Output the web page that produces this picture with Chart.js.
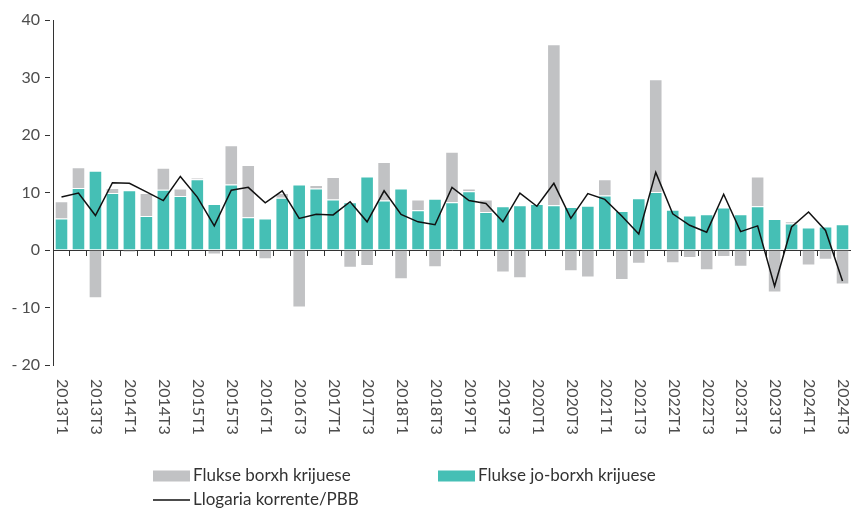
<!DOCTYPE html>
<html><head><meta charset="utf-8">
<script src="https://cdn.jsdelivr.net/npm/chart.js@4"></script>
<style>html,body{margin:0;padding:0;background:#fff;overflow:hidden}#wrap{width:851px;height:512px;position:relative}</style>
</head><body><div id="wrap"><canvas id="c" width="851" height="512"></canvas></div>
<script>
const quarters = ['2013T1','2013T2','2013T3','2013T4','2014T1','2014T2','2014T3','2014T4','2015T1','2015T2','2015T3','2015T4',
'2016T1','2016T2','2016T3','2016T4','2017T1','2017T2','2017T3','2017T4','2018T1','2018T2','2018T3','2018T4',
'2019T1','2019T2','2019T3','2019T4','2020T1','2020T2','2020T3','2020T4','2021T1','2021T2','2021T3','2021T4',
'2022T1','2022T2','2022T3','2022T4','2023T1','2023T2','2023T3','2023T4','2024T1','2024T2','2024T3'];
const nonDebtFlows = [5.5,10.8,13.8,9.9,10.4,5.9,10.5,9.4,12.3,8.0,11.4,5.7,5.5,9.1,11.4,10.7,8.8,8.3,12.8,8.6,10.7,6.9,8.9,8.3,10.2,6.6,7.6,7.8,8.0,7.8,7.5,7.7,9.5,6.8,9.0,10.1,7.0,6.0,6.2,7.4,6.2,7.6,5.4,4.6,3.9,4.1,4.5];
const debtFlows = [3.0,3.6,-8.4,0.9,-0.4,4.0,3.8,1.3,0.3,-0.8,6.8,9.1,-1.6,0.8,-10.0,0.6,3.9,-3.1,-2.8,6.7,-5.1,1.9,-3.0,8.8,0.5,2.2,-3.9,-4.9,0,28.0,-3.7,-4.8,2.8,-5.2,-2.4,19.6,-2.3,-1.4,-3.5,-1.2,-2.9,5.2,-7.4,0.4,-2.7,-1.7,-6.0];
const currentAccount = [9.2,9.9,6.0,11.7,11.6,10.1,8.6,12.8,9.2,4.2,10.4,10.9,8.2,10.3,5.5,6.2,6.1,8.4,4.9,10.3,6.2,4.9,4.4,10.9,8.6,8.1,4.9,9.9,7.6,11.6,5.5,9.8,8.8,5.9,2.8,13.5,6.3,4.3,3.1,9.7,3.2,4.2,-6.3,4.0,6.6,3.4,-5.4];
const yTickValues = [40,30,20,10,0,-10,-20];
const yTickLabels = ['40','30','20','10','0','- 10','- 20'];
const seriesNames = ['Flukse borxh krijuese','Flukse jo-borxh krijuese','Llogaria korrente/PBB'];

const TEAL = '#45BFB5', GRAY = '#C1C2C4', LINE = '#111111';
const FONT = 'Lato, "Open Sans", sans-serif';

const xLabelPlugin = {
  id: 'xlabels',
  afterDraw(chart) {
    const ctx = chart.ctx, xs = chart.scales.x, area = chart.chartArea;
    ctx.save();
    ctx.font = '16px ' + FONT;
    ctx.fillStyle = '#4d4d4d';
    ctx.textAlign = 'left';
    ctx.textBaseline = 'middle';
    quarters.forEach((q, i) => {
      if (i % 2) return;
      const x = xs.getPixelForValue(i);
      ctx.save();
      ctx.translate(x + 1, area.bottom + 14);
      ctx.rotate(Math.PI / 2);
      ctx.fillText(q, 0, 0);
      ctx.restore();
    });
    ctx.restore();
  }
};

const legendPlugin = {
  id: 'customLegend',
  afterDraw(chart) {
    const ctx = chart.ctx;
    const ds = chart.data.datasets;
    const items = [
      {text: ds[1].label, color: ds[1].backgroundColor, type: 'box', x: 153, y: 476},
      {text: ds[0].label, color: ds[0].backgroundColor, type: 'box', x: 438, y: 476},
      {text: ds[2].label, color: ds[2].borderColor, type: 'line', x: 153, y: 500}
    ];
    ctx.save();
    ctx.font = '17px ' + FONT;
    ctx.textBaseline = 'middle';
    ctx.textAlign = 'left';
    items.forEach(it => {
      if (it.type === 'box') {
        ctx.fillStyle = it.color;
        ctx.fillRect(it.x, it.y - 5.5, 37, 11);
      } else {
        ctx.strokeStyle = it.color;
        ctx.lineWidth = 1.5;
        ctx.beginPath();
        ctx.moveTo(it.x, it.y);
        ctx.lineTo(it.x + 37, it.y);
        ctx.stroke();
      }
      ctx.fillStyle = '#333';
      ctx.fillText(it.text, it.x + 40, it.y);
    });
    ctx.restore();
  }
};

new Chart(document.getElementById('c'), {
  data: {
    labels: quarters,
    datasets: [
      {type: 'bar', label: seriesNames[1], data: nonDebtFlows, backgroundColor: TEAL,
       borderColor: 'rgba(255,255,255,0.35)', borderWidth: 1, stack: 'flows', order: 1,
       barPercentage: 0.8, categoryPercentage: 1.0},
      {type: 'bar', label: seriesNames[0], data: debtFlows, backgroundColor: GRAY,
       borderColor: 'rgba(255,255,255,0.35)', borderWidth: 1, stack: 'flows', order: 2,
       barPercentage: 0.8, categoryPercentage: 1.0},
      {type: 'line', label: seriesNames[2], data: currentAccount, borderColor: LINE,
       backgroundColor: LINE, borderWidth: 1.5, pointRadius: 0, tension: 0, fill: false,
       stack: 'ca', order: 0}
    ]
  },
  options: {
    responsive: false,
    devicePixelRatio: 1,
    animation: false,
    layout: {padding: {top: 20, right: 0, bottom: 147, left: 0}},
    plugins: {legend: {display: false}, tooltip: {enabled: false}},
    scales: {
      x: {
        type: 'category',
        position: {y: 0},
        stacked: true,
        offset: true,
        ticks: {display: false},
        grid: {display: true, drawOnChartArea: false, drawTicks: true, tickLength: 5,
               tickColor: '#333', offset: true},
        border: {display: true, color: '#333', width: 1, dash: [5, 3]}
      },
      y: {
        stacked: true,
        min: -20, max: 40,
        afterFit(scale) { scale.width = 53; },
        afterBuildTicks(scale) { scale.ticks = yTickValues.map(v => ({value: v})); },
        ticks: {
          padding: 5,
          color: '#4d4d4d',
          font: {family: FONT, size: 16},
          callback: (v) => { const k = yTickValues.indexOf(v); return k >= 0 ? yTickLabels[k] : ''; }
        },
        grid: {display: true, drawOnChartArea: false, tickLength: 8, tickColor: '#333',
               tickBorderDash: [5, 3]},
        border: {display: true, color: '#333', width: 1, dash: [5, 3]}
      }
    }
  },
  plugins: [xLabelPlugin, legendPlugin]
});
</script></body></html>
